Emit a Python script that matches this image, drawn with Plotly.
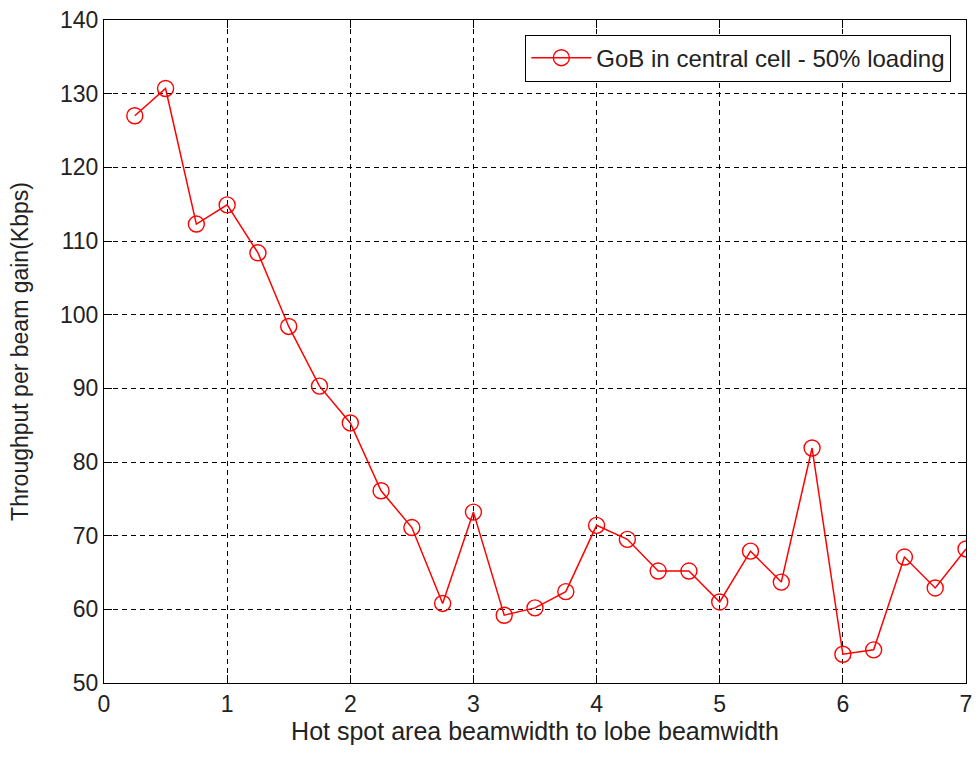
import plotly.graph_objects as go

x_ratio = [0.25, 0.5, 0.75, 1.0, 1.25, 1.5, 1.75, 2.0, 2.25, 2.5, 2.75, 3.0, 3.25, 3.5,
           3.75, 4.0, 4.25, 4.5, 4.75, 5.0, 5.25, 5.5, 5.75, 6.0, 6.25, 6.5, 6.75, 7.0]
gain_kbps = [127.0, 130.7, 112.3, 114.9, 108.4, 98.4, 90.3, 85.3, 76.1, 71.1, 60.8, 73.2,
             59.2, 60.2, 62.4, 71.4, 69.5, 65.2, 65.2, 61.0, 67.9, 63.7, 81.9, 53.9,
             54.5, 67.1, 62.9, 68.2]
series_name = "GoB in central cell - 50% loading"
x_ticks = [0, 1, 2, 3, 4, 5, 6, 7]
y_ticks = [50, 60, 70, 80, 90, 100, 110, 120, 130, 140]

FONT = "Liberation Sans, Arial, sans-serif"

fig = go.Figure()
fig.add_trace(go.Scatter(
    x=x_ratio, y=gain_kbps, name=series_name, mode="lines+markers",
    line=dict(color="#ff0000", width=1.5),
    marker=dict(symbol="circle-open", size=16, color="#ff0000", line=dict(width=1.4, color="#ff0000")),
))

axis_common = dict(
    showline=True, linecolor="black", linewidth=1.2, mirror="ticks",
    ticks="inside", ticklen=8, tickcolor="black", tickwidth=1,
    showgrid=True, gridcolor="black", gridwidth=1.3, griddash="5px,4px",
    zeroline=False, tickfont=dict(family=FONT, size=23, color="#222"),
)

fig.update_layout(
    width=979, height=758,
    margin=dict(l=104, r=7, t=20, b=75),
    paper_bgcolor="white", plot_bgcolor="white",
    font=dict(family=FONT, size=23, color="#222"),
    xaxis=dict(range=[0, 7], tickvals=x_ticks, ticktext=[str(v) for v in x_ticks],
               title=dict(text="Hot spot area beamwidth to lobe beamwidth",
                          font=dict(family=FONT, size=25, color="#222"), standoff=5),
               **axis_common),
    yaxis=dict(range=[50, 140], tickvals=y_ticks, ticktext=[str(v) for v in y_ticks],
               title=dict(text="Throughput per beam gain(Kbps)",
                          font=dict(family=FONT, size=23, color="#222"), standoff=24),
               **axis_common),
    showlegend=True,
    legend=dict(x=0.983, y=0.978, xanchor="right", yanchor="top",
                bgcolor="white", bordercolor="black", borderwidth=1,
                font=dict(family=FONT, size=24, color="#222"), itemwidth=60),
)

fig.write_html("out.html")
